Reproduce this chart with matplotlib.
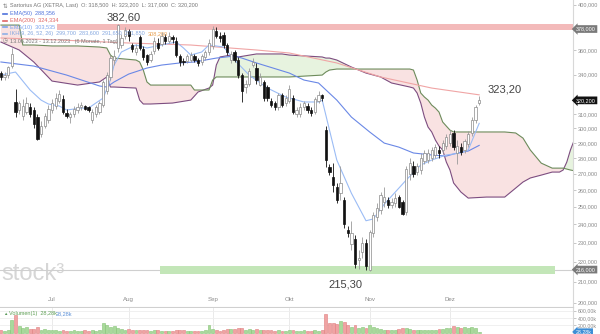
import numpy as np
import pandas as pd
import matplotlib.pyplot as plt
from matplotlib.ticker import FixedLocator, FuncFormatter, NullLocator

plt.rcParams['font.family'] = ['Liberation Sans', 'DejaVu Sans']

# Handelstage 13.06.2023 - 13.12.2023
dates = pd.bdate_range('2023-06-13', '2023-12-13')

opens = [341, 338, 340, 347, 319, 313, 309, 312, 315, 313,
         308, 296, 302, 306, 313, 316, 320, 321, 311, 308,
         310, 313, 315, 316, 315, 306, 310, 312, 317, 327,
         338, 352, 362, 364, 372, 376, 364, 358, 371, 361,
         356, 352, 359, 366, 365, 371, 368, 371, 368, 355,
         351, 351, 352, 355, 352, 350, 354, 358, 363, 376,
         372, 373, 364, 352, 358, 352, 340, 330, 333, 348,
         345, 332, 334, 330, 320, 318, 315, 324, 318, 320,
         322, 310, 310, 315, 316, 313, 312, 320, 324, 299,
         274, 268, 262, 258, 254, 237, 229, 232, 221, 225,
         230, 216, 235, 244, 248, 253, 254, 251, 252, 256,
         253, 247, 270, 275, 271, 272, 278, 279, 280, 282,
         285, 285, 288, 290, 297, 283, 287, 285, 289, 297,
         306, 318.5]
highs = [343, 342, 347, 362, 329, 320, 321, 323, 318, 315,
         310, 305, 311, 317, 321, 326, 328, 324, 314, 312,
         316, 318, 319, 317, 316, 314, 317, 320, 336, 342,
         356, 360, 382.6, 374, 380, 378, 366, 365, 373, 363,
         357, 359, 371, 370, 375, 374, 375, 373, 371, 357,
         353, 357, 358, 357, 353, 357, 360, 369, 381, 380,
         375, 375, 366, 359, 360, 354, 341, 336, 345, 353,
         349, 341, 336, 332, 322, 320, 326, 326, 324, 332,
         324, 315, 318, 320, 318, 315, 323, 327, 325, 302,
         276, 277, 264, 275, 256, 239, 242, 234, 226, 233,
         232, 237, 247, 252, 259, 262, 256, 255, 258, 257,
         254, 275, 280, 278, 277, 283, 285, 286, 287, 289,
         288, 292, 296, 299, 299, 292, 290, 293, 298, 308,
         317, 323.2]
lows = [336, 336, 337, 345, 308, 310, 306, 310, 308, 300,
        292, 294, 300, 304, 311, 314, 318, 310, 307, 304,
        308, 311, 313, 313, 312, 304, 308, 310, 315, 325,
        336, 348, 358, 362, 369, 368, 358, 356, 360, 352,
        348, 350, 357, 360, 363, 365, 366, 366, 354, 347,
        348, 349, 350, 350, 347, 348, 352, 356, 361, 370,
        367, 362, 356, 349, 350, 337, 319, 326, 331, 346,
        333, 331, 320, 320, 315, 313, 313, 315, 316, 318,
        310, 308, 308, 313, 311, 309, 310, 318, 320, 274,
        269, 259, 252, 254, 238, 233, 226, 217, 216.5, 222,
        216, 215.3, 233, 242, 246, 250, 249, 249, 250, 249,
        245, 245, 266, 268, 269, 270, 276, 277, 278, 280,
        280, 283, 286, 288, 285, 276, 282, 283, 287, 295,
        304, 317]
closes = [338, 340, 346, 357, 312, 318, 316, 318, 310, 303,
          293, 302, 309, 314, 318, 322, 325, 312, 309, 310,
          314, 315, 317, 314, 313, 312, 315, 318, 334, 340,
          353, 355, 381.5, 370, 377, 372, 361, 362, 362, 354,
          350, 357, 368, 362, 372, 368, 372, 369, 356, 350,
          350, 355, 356, 352, 349, 355, 358, 366, 378, 372,
          370, 364, 358, 357, 352, 339.6, 327, 333, 343, 350,
          336, 338, 322, 322, 317, 315, 324, 317, 322, 329,
          312, 313, 315, 318, 313, 311, 321, 324, 322, 279,
          271, 263, 254, 264, 240, 235, 235, 219, 222, 230,
          218, 236, 245, 249, 257, 256, 251, 253, 255, 250,
          246, 273, 277, 270, 275, 280, 283, 283, 285, 287,
          283, 290, 294, 296, 287, 288, 284, 291, 296, 306,
          315, 320.2]
volumes_k = [70, 60, 80, 350, 480, 195, 130, 170, 105, 95,
             160, 90, 100, 75, 90, 70, 60, 85, 60, 55,
             75, 65, 55, 70, 60, 75, 60, 90, 270, 200,
             160, 180, 120, 100, 90, 95, 75, 70, 90, 80,
             70, 60, 85, 70, 60, 65, 60, 55, 90, 85,
             70, 60, 55, 60, 50, 60, 80, 200, 100, 70,
             65, 90, 100, 110, 115, 120, 130, 90, 100, 80,
             95, 70, 90, 80, 70, 60, 70, 65, 55, 75,
             80, 60, 55, 70, 50, 45, 70, 60, 90, 520,
             270, 260, 250, 310, 280, 220, 170, 200, 140, 160,
             130, 200, 150, 130, 110, 90, 80, 75, 85, 100,
             120, 140, 110, 90, 85, 90, 80, 70, 75, 80,
             110, 100, 120, 130, 180, 150, 130, 150, 120, 160,
             140, 28.28]

# Indikatoren (Stützstellen je Handelstag-Index)
ema50_idx = [0, 9, 18, 27, 29, 31, 35, 40, 44, 49, 53, 59, 64, 66, 70,
             79, 83, 87, 92, 96, 101, 105, 109, 113, 118, 122, 125, 128, 131]
ema50_val = [350.1, 346.8, 339.6, 331.1, 330.3, 334.2, 340.4, 345.2, 347.6, 349.3,
             350.1, 353.3, 355.0, 353.3, 349.3, 341.2, 335.7, 333.4, 320.4, 308.0,
             297.5, 289.9, 287.2, 283.3, 282.0, 281.3, 283.3, 284.6, 288.356]
ema10_idx = [0, 4, 8, 11, 13, 16, 18, 22, 24, 26, 28, 30, 31, 33, 37, 40, 44, 48, 50, 52,
             55, 57, 61, 64, 68, 73, 78, 83, 87, 88, 90, 92, 96, 100, 102, 105, 111, 115,
             118, 122, 126, 128, 131]
ema10_val = [339.6, 342.0, 328.0, 320.4, 317.5, 316.0, 313.1, 314.5, 314.5, 318.2,
             321.9, 335.7, 347.6, 358.3, 364.2, 361.7, 364.2, 366.8, 361.7, 355.8,
             358.3, 364.2, 362.5, 351.7, 339.6, 329.5, 322.7, 319.0, 319.0, 320.4,
             298.8, 278.7, 258.0, 242.0, 243.0, 251.5, 266.0, 275.5, 278.7, 282.0,
             283.3, 285.3, 303.535]
ema200_idx = [0, 16, 35, 52, 70, 79, 92, 104, 118, 131]
ema200_val = [370.2, 368.5, 365.9, 364.2, 360.0, 357.5, 349.3, 338.1, 329.5, 324.334]

cloud_idx = [0, 5, 6, 9, 14, 21, 27, 29, 30, 31, 37, 38, 39, 40, 41, 47, 52, 53, 54, 57,
             58, 59, 60, 63, 65, 70, 77, 79, 88, 89, 90, 92, 96, 100, 104, 107, 112, 113,
             114, 115, 116, 117, 118, 119, 120, 121, 122, 123, 124, 126, 128, 133, 138,
             141, 143, 145, 148, 151, 153, 154, 155, 156, 157]
senkou_b = [381.5, 381.5, 364.2, 364.2, 363.4, 363.4, 362.5, 361.7, 355.8, 353.3,
            351.7, 350.1, 343.6, 334.2, 331.8, 331.8, 331.8, 328.0, 328.0, 328.0,
            335.7, 338.1, 338.1, 338.1, 338.1, 338.1, 338.1, 338.1, 339.6, 342.0,
            343.6, 344.4, 344.4, 344.4, 344.4, 344.4, 344.4, 343.6, 335.7, 325.7,
            322.7, 320.4, 316.7, 314.5, 311.6, 304.5, 301.6, 298.8, 297.5, 297.5,
            297.5, 297.5, 297.5, 296.8, 293.3, 285.3, 276.7, 273.5, 273.5, 273.5,
            272.9, 272.3, 271.85]
senkou_a = [366.7, 360.0, 357.5, 350.1, 334.9, 331.8, 334.2, 338.1, 330.3, 330.3,
            329.5, 320.4, 317.5, 317.5, 317.5, 318.2, 320.4, 323.4, 326.5, 329.5,
            331.8, 347.6, 354.2, 355.8, 354.2, 356.7, 356.7, 355.8, 354.2, 353.3,
            353.3, 351.7, 346.0, 341.2, 338.1, 333.4, 330.3, 329.5, 325.7, 318.2,
            308.0, 300.9, 297.5, 292.0, 287.9, 285.3, 277.4, 272.3, 264.2, 258.7,
            255.1, 255.7, 255.7, 261.1, 264.8, 267.3, 269.1, 271.0, 271.0, 272.3,
            277.4, 285.3, 291.65]

y_ticks = [200, 210, 220, 230, 240, 250, 260, 270, 280, 290, 300, 310, 340, 360, 400]
month_names = {7: 'Jul', 8: 'Aug', 9: 'Sep', 10: 'Okt', 11: 'Nov', 12: 'Dez'}


def de(v, nd=3):
    return f"{v:.{nd}f}".replace('.', ',')


o = np.array(opens, float)
h = np.array(highs, float)
l = np.array(lows, float)
c = np.array(closes, float)
vol = np.array(volumes_k, float)
idx = np.arange(len(c))
up = c >= o

W, H = 600, 334
fig = plt.figure(figsize=(6, 3.34), dpi=100)
ax = fig.add_axes([0, 27 / H, 573 / W, 307 / H])
axv = fig.add_axes([0, 0, 573 / W, 26 / H])

ax.set_yscale('log')
ax.set_ylim(198.0, 404.4)
ax.set_xlim(-0.25, 156.7)
axv.set_xlim(-0.25, 156.7)


def pt(x, y):
    # Position in Pixel der Hauptfläche -> Achsenanteil
    return x / 573, 1 - y / 307


# Wolke
ci = np.array(cloud_idx, float)
sa = np.array(senkou_a)
sb = np.array(senkou_b)
ax.fill_between(ci, sa, sb, where=sb >= sa, interpolate=True, color='#f9e2e2', lw=0, zorder=1)
ax.fill_between(ci, sa, sb, where=sb < sa, interpolate=True, color='#e7f3df', lw=0, zorder=1)
ax.plot(ci, sa, color='#7d4d80', lw=0.8, zorder=2)
ax.plot(ci, sb, color='#6d8b5b', lw=0.8, zorder=2)

# Zonen
ax.axhspan(377.0, 382.4, xmin=57 / 573, color='#f3baba', lw=0, zorder=1)
ax.axhline(216, color='#cfcfcf', lw=0.8, zorder=1)
ax.axhspan(214.0, 217.6, xmin=160 / 573, xmax=555 / 573, color='#c3e6b8', lw=0, zorder=1)

# gleitende Durchschnitte
ax.plot(ema200_idx, ema200_val, color='#f0a5a5', lw=0.8, zorder=2)
ax.plot(ema50_idx, ema50_val, color='#6a88e6', lw=0.8, zorder=2)
ax.plot(ema10_idx, ema10_val, color='#9bbcf5', lw=0.8, zorder=2)

# Kerzen
bw = 0.62
wick_col = np.where(up, '#9a9a9a', '#111111')
ax.vlines(idx, l, h, colors=wick_col, lw=0.6, zorder=3)
body_lo = np.minimum(o, c)
body_hi = np.maximum(o, c)
body_h = np.maximum(body_hi - body_lo, 0.4)
ax.bar(idx[up], body_h[up], bottom=body_lo[up], width=bw, color='white',
       edgecolor='#8a8a8a', lw=0.5, zorder=4)
ax.bar(idx[~up], body_h[~up], bottom=body_lo[~up], width=bw, color='#111111',
       edgecolor='#111111', lw=0.5, zorder=4)

# Achsen
ax.yaxis.tick_right()
ax.yaxis.set_major_locator(FixedLocator(y_ticks))
ax.yaxis.set_minor_locator(NullLocator())
ax.yaxis.set_major_formatter(FuncFormatter(lambda v, p: de(v)))
ax.tick_params(axis='y', length=2, width=0.5, color='#b0b0b0', labelsize=4.0,
               labelcolor='#8a8a8a', pad=1.5)
ax.set_xticks([])
for s in ['top', 'left']:
    ax.spines[s].set_visible(False)
ax.spines['right'].set_color('#d8d8d8')
ax.spines['bottom'].set_color('#d0d0d0')
ax.spines['right'].set_linewidth(0.8)
ax.spines['bottom'].set_linewidth(0.8)

# Monate
month_pos = [i for i in range(1, len(dates)) if dates[i].month != dates[i - 1].month]
for i in month_pos:
    ax.text(i, 0.023, month_names[dates[i].month], transform=ax.get_xaxis_transform(),
            ha='center', va='center', fontsize=4.4, color='#8a8a8a')
    axv.axvline(i, color='#e6e6e6', lw=0.6, zorder=0)

# Markierungen rechts
tag_kw = dict(xycoords=ax.get_yaxis_transform(), textcoords='offset points',
              xytext=(2.2, 0), ha='left', va='center', fontsize=3.9, color='white',
              annotation_clip=False)
ax.annotate(de(378), xy=(1.0, 378), bbox=dict(boxstyle='larrow,pad=0.25', fc='#7a7a7a', ec='none'), **tag_kw)
ax.annotate(de(c[-1]), xy=(1.0, c[-1]), bbox=dict(boxstyle='larrow,pad=0.25', fc='#111111', ec='none'), **tag_kw)
ax.annotate(de(216), xy=(1.0, 216), bbox=dict(boxstyle='larrow,pad=0.25', fc='#7a7a7a', ec='none'), **tag_kw)

# Hoch / Tief / Schluss
hi_i = int(np.argmax(h))
lo_i = int(np.argmin(l))
ax.text(hi_i + 1.5, h[hi_i] * 1.014, de(h[hi_i], 2), ha='center', va='center',
        fontsize=8, color='#444444', zorder=6)
ax.text(lo_i - 6.5, l[lo_i] * 0.968, de(l[lo_i], 2), ha='center', va='center',
        fontsize=8, color='#444444', zorder=6)
ax.text(idx[-1] + 2.2, h[-1] * 1.016, de(h[-1], 2), ha='left', va='center',
        fontsize=8, color='#444444', zorder=6)

# Wasserzeichen
ax.text(*pt(1, 274), 'stock³', transform=ax.transAxes, ha='left', va='center',
        fontsize=17, color='#d6d6d6', zorder=0)

# Legende oben links
lf = 4.0
ax.text(*pt(3, 6), '⇅', transform=ax.transAxes, fontsize=lf, color='#777', va='center')
ax.text(*pt(10, 6), 'Sartorius AG (XETRA, Last)  O: 318,500  H: 323,200  L: 317,000  C: 320,200',
        transform=ax.transAxes, fontsize=lf, color='#777', va='center', zorder=6)
rows = [(13.5, '#4f72dc', 'EMA(50)  288,356'),
        (20.5, '#e06464', 'EMA(200)  324,334'),
        (27.0, '#7aa2ee', 'EMA(10)  303,535')]
for y, col, txt in rows:
    ax.plot([3 / 573, 7 / 573], [1 - y / 307] * 2, transform=ax.transAxes, color=col, lw=1.2, zorder=6)
    ax.text(*pt(10, y), txt, transform=ax.transAxes, fontsize=lf, color=col, va='center', zorder=6)
ax.plot([3 / 573, 7 / 573], [1 - 34 / 307] * 2, transform=ax.transAxes, color='#8fb0e6', lw=1.2, zorder=6)
ax.text(*pt(10, 34), 'IKH(9, 26, 52, 26)  299,700  283,600  291,650  271,850',
        transform=ax.transAxes, fontsize=lf, color='#86a8e0', va='center', zorder=6)
ax.text(*pt(148, 34), '308,200', transform=ax.transAxes, fontsize=lf, color='#e8a050',
        va='center', zorder=6)
ax.text(*pt(3, 41), '◷', transform=ax.transAxes, fontsize=lf, color='#777', va='center')
ax.text(*pt(10, 41), '13.06.2023 - 13.12.2023   (6 Monate, 1 Tag)', transform=ax.transAxes,
        fontsize=lf, color='#777', va='center', zorder=6)

# Volumen
vcol = np.where(up, '#a9d99b', '#f0a3a3')
vedge = np.where(up, '#84c274', '#de7f7f')
axv.bar(idx, vol, width=0.78, color=vcol, edgecolor=vedge, lw=0.4, zorder=2)
axv.set_ylim(-27, 667)
axv.yaxis.tick_right()
axv.set_yticks([200, 400, 600])
axv.yaxis.set_major_formatter(FuncFormatter(lambda v, p: de(v, 2) + 'k'))
axv.tick_params(axis='y', length=2, width=0.5, color='#b0b0b0', labelsize=3.8,
                labelcolor='#8a8a8a', pad=1.5)
axv.set_xticks([])
for yv in [200, 400, 600]:
    axv.axhline(yv, color='#eeeeee', lw=0.6, zorder=0)
for s in ['top', 'left', 'bottom']:
    axv.spines[s].set_visible(False)
axv.spines['right'].set_color('#d8d8d8')
axv.text(3 / 573, 0.78, '▲', transform=axv.transAxes, fontsize=3.2, color='#5a9a5a', va='center')
axv.text(9 / 573, 0.78, 'Volumen(1)  28,28k', transform=axv.transAxes, fontsize=lf,
         color='#5f9f55', va='center', zorder=5)
axv.text(56 / 573, 0.78, '28,28k', transform=axv.transAxes, fontsize=lf,
         color='#5b8fd6', va='center', zorder=5)
axv.annotate('28,28k', xy=(1.0, vol[-1]), xycoords=axv.get_yaxis_transform(),
             textcoords='offset points', xytext=(2.2, 0), ha='left', va='center',
             fontsize=3.8, color='white', annotation_clip=False,
             bbox=dict(boxstyle='larrow,pad=0.2', fc='#3d8ed6', ec='none'))

fig.savefig('out.png', dpi=100)
